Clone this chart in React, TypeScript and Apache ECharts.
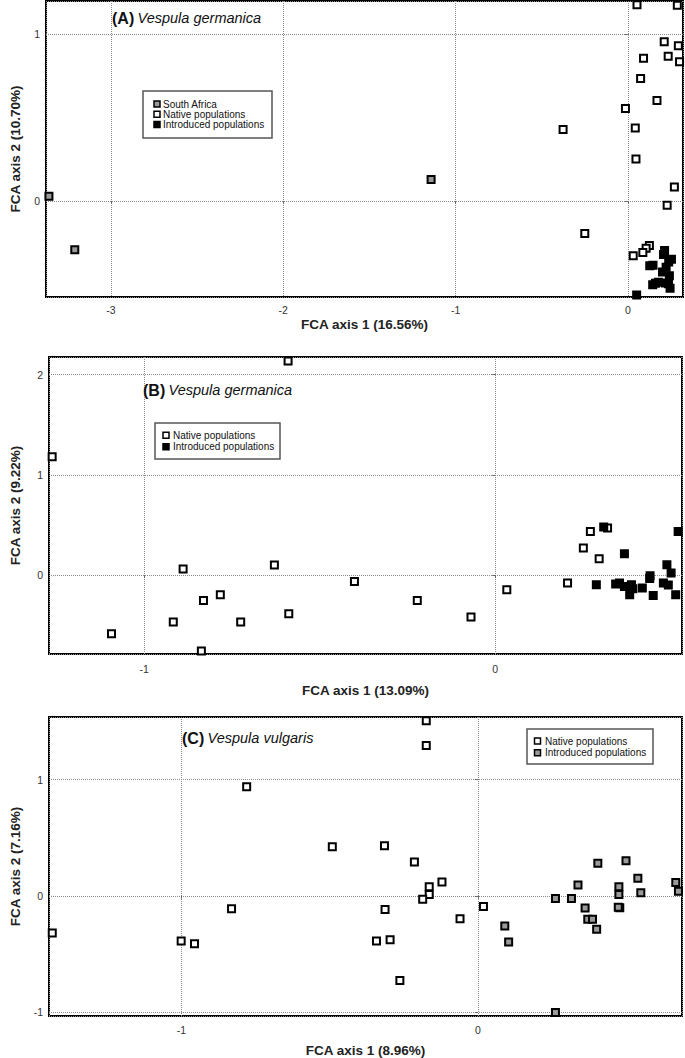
import React, { useEffect, useRef } from "react";
import * as echarts from "echarts";

// ---------- Panel A: Vespula germanica ----------
const southAfricaA: number[][] = [
  [-3.36, 0.028], [-3.21, -0.293], [-1.142, 0.129],
];
const nativeA: number[][] = [
  [0.053, 1.177], [0.287, 1.175], [0.211, 0.956], [0.293, 0.932], [0.091, 0.856],
  [0.234, 0.868], [0.3, 0.836], [0.074, 0.734], [0.169, 0.602], [-0.014, 0.555],
  [-0.376, 0.429], [0.043, 0.437], [0.047, 0.251], [0.27, 0.084], [0.228, -0.026],
  [-0.25, -0.196], [0.125, -0.268], [0.106, -0.284], [0.087, -0.31], [0.031, -0.329],
];
const introducedA: number[][] = [
  [0.213, -0.298], [0.207, -0.322], [0.253, -0.35], [0.237, -0.367], [0.146, -0.386],
  [0.127, -0.389], [0.222, -0.398], [0.201, -0.427], [0.241, -0.449], [0.177, -0.489],
  [0.144, -0.503], [0.218, -0.493], [0.236, -0.497], [0.245, -0.525], [0.051, -0.565],
  [0.16, -0.495],
];

// ---------- Panel B: Vespula germanica ----------
const nativeB: number[][] = [
  [-0.59, 2.136], [-1.262, 1.181], [-0.889, 0.06], [-0.629, 0.1], [-0.401, -0.063],
  [-0.831, -0.253], [-0.783, -0.196], [-0.917, -0.469], [-0.725, -0.469], [-0.588, -0.386],
  [-1.093, -0.585], [-0.837, -0.758], [-0.222, -0.253], [-0.069, -0.419], [0.033, -0.146],
  [0.206, -0.08], [0.251, 0.269], [0.271, 0.436], [0.296, 0.163], [0.32, 0.469],
];
const introducedB: number[][] = [
  [0.309, 0.479], [0.521, 0.435], [0.368, 0.213], [0.489, 0.103], [0.501, 0.02],
  [0.441, -0.007], [0.44, -0.034], [0.288, -0.097], [0.343, -0.09], [0.354, -0.08],
  [0.368, -0.114], [0.388, -0.097], [0.392, -0.137], [0.383, -0.197], [0.419, -0.13],
  [0.45, -0.204], [0.479, -0.08], [0.493, -0.1], [0.514, -0.197],
];

// ---------- Panel C: Vespula vulgaris ----------
const nativeC: number[][] = [
  [-0.174, 1.506], [-0.174, 1.294], [-0.78, 0.938], [-0.491, 0.422], [-0.315, 0.43],
  [-0.214, 0.29], [-0.121, 0.118], [-0.164, 0.077], [-0.164, 0.011], [-0.186, -0.029],
  [-0.831, -0.112], [-0.313, -0.118], [-0.06, -0.198], [0.019, -0.092], [-1.436, -0.321],
  [-1.001, -0.39], [-0.956, -0.413], [-0.342, -0.39], [-0.296, -0.379], [-0.263, -0.729],
];
const introducedC: number[][] = [
  [0.091, -0.261], [0.104, -0.398], [0.262, -0.023], [0.316, -0.023], [0.338, 0.092],
  [0.405, 0.279], [0.362, -0.106], [0.371, -0.203], [0.387, -0.203], [0.401, -0.289],
  [0.476, 0.078], [0.476, 0.012], [0.479, -0.103], [0.474, -0.098], [0.5, 0.301],
  [0.54, 0.15], [0.55, 0.026], [0.668, 0.115], [0.677, 0.04], [0.262, -1.004],
];

const axisNamesX = ["FCA axis 1 (16.56%)", "FCA axis 1 (13.09%)", "FCA axis 1 (8.96%)"];
const axisNamesY = ["FCA axis 2 (10.70%)", "FCA axis 2 (9.22%)", "FCA axis 2 (7.16%)"];
const panelTags = ["(A)", "(B)", "(C)"];
const species = ["Vespula germanica", "Vespula germanica", "Vespula vulgaris"];
const xRanges = [[-3.377, 0.32], [-1.271, 0.532], [-1.447, 0.689]];
const yRanges = [[-0.577, 1.2], [-0.788, 2.177], [-1.035, 1.539]];

const FONT = "'Liberation Sans', Arial, sans-serif";

const grids = [
  { left: 37, top: 1, width: 646, height: 296 },
  { left: 40, top: 357, width: 642, height: 297 },
  { left: 40, top: 717, width: 642, height: 299 },
];
const xNameGaps = [20, 29, 27];
const xLabelMargins = [7, 9, 8];
const yNameGaps = [24, 27, 27];

const intFormatter = (v: number) =>
  Math.abs(v - Math.round(v)) < 1e-6 ? String(Math.round(v)) : "";

function makeX(i: number) {
  return {
    type: "value",
    gridIndex: i,
    min: xRanges[i][0],
    max: xRanges[i][1],
    minInterval: 1,
    maxInterval: 1,
    splitNumber: 3,
    name: axisNamesX[i],
    nameLocation: "middle",
    nameGap: xNameGaps[i],
    nameTextStyle: { fontFamily: FONT, fontWeight: "bold", fontSize: 13.5, color: "#222" },
    axisLine: { show: false },
    axisTick: { show: true, length: 3, lineStyle: { color: "#666" } },
    axisLabel: {
      fontFamily: FONT, fontSize: 10.5, color: "#333", margin: xLabelMargins[i],
      formatter: intFormatter, showMinLabel: false, showMaxLabel: false,
    },
    splitLine: { show: true, lineStyle: { color: "#8a8a8a", type: [1, 1], width: 1 } },
  };
}
function makeY(i: number) {
  return {
    type: "value",
    gridIndex: i,
    min: yRanges[i][0],
    max: yRanges[i][1],
    minInterval: 1,
    maxInterval: 1,
    splitNumber: 3,
    name: axisNamesY[i],
    nameLocation: "middle",
    nameGap: yNameGaps[i],
    nameTextStyle: { fontFamily: FONT, fontWeight: "bold", fontSize: 13.5, color: "#222" },
    axisLine: { show: false },
    axisTick: { show: true, length: 3, lineStyle: { color: "#666" } },
    axisLabel: {
      fontFamily: FONT, fontSize: 10.5, color: "#333", margin: 6,
      formatter: intFormatter, showMinLabel: false, showMaxLabel: false,
    },
    splitLine: { show: true, lineStyle: { color: "#8a8a8a", type: [1, 1], width: 1 } },
  };
}

function scatter(name: string, data: number[][], i: number, fill: string) {
  return {
    type: "scatter",
    name,
    xAxisIndex: i,
    yAxisIndex: i,
    data,
    symbol: "rect",
    symbolSize: 7,
    itemStyle: { color: fill, borderColor: "#000", borderWidth: 2, opacity: 1 },
    z: 5,
  };
}

function legendBox(x: number, y: number, w: number, h: number, items: { label: string; fill: string }[], rowY0: number, rowStep: number, sqX: number, textX: number) {
  const children: any[] = [
    {
      type: "rect",
      shape: { x, y, width: w, height: h },
      style: { fill: "#fff", stroke: "#555", lineWidth: 1.5 },
    },
  ];
  items.forEach((it, k) => {
    const cy = rowY0 + k * rowStep;
    children.push({
      type: "rect",
      shape: { x: sqX - 3, y: cy - 3, width: 6, height: 6 },
      style: { fill: it.fill, stroke: "#000", lineWidth: 1.5 },
    });
    children.push({
      type: "text",
      x: textX,
      y: cy,
      style: {
        text: it.label,
        fontFamily: FONT,
        fontSize: 10,
        lineHeight: 10,
        fill: "#111",
        verticalAlign: "middle",
        align: "left",
      },
    });
  });
  return { type: "group", children, z: 10 };
}

function title(i: number, x: number, y: number) {
  return {
    type: "text",
    x,
    y,
    z: 10,
    style: {
      text: `{b|${panelTags[i]}} {i|${species[i]}}`,
      verticalAlign: "middle",
      rich: {
        b: { fontFamily: FONT, fontWeight: "bold", fontSize: 16, fill: "#111" },
        i: { fontFamily: FONT, fontStyle: "italic", fontSize: 14.5, fill: "#111" },
      },
    },
  };
}

export default function App() {
  const ref = useRef<HTMLDivElement>(null);
  useEffect(() => {
    document.body.style.margin = "0";
    const chart = echarts.init(ref.current!, null, { renderer: "svg" });
    const option: any = {
      animation: false,
      backgroundColor: "#fff",
      grid: grids.map((g) => ({
        ...g,
        show: true,
        borderColor: "#000",
        borderWidth: 2,
        backgroundColor: "transparent",
        containLabel: false,
      })),
      xAxis: [0, 1, 2].map(makeX),
      yAxis: [0, 1, 2].map(makeY),
      series: [
        scatter("South Africa", southAfricaA, 0, "#9a9a9a"),
        scatter("Native populations", nativeA, 0, "#fff"),
        scatter("Introduced populations", introducedA, 0, "#000"),
        scatter("Native populations", nativeB, 1, "#fff"),
        scatter("Introduced populations", introducedB, 1, "#000"),
        scatter("Native populations", nativeC, 2, "#fff"),
        scatter("Introduced populations", introducedC, 2, "#9a9a9a"),
      ],
      graphic: [
        title(0, 112, 18),
        title(1, 143, 390),
        title(2, 182, 738),
        legendBox(143, 91, 129, 47, [
          { label: "South Africa", fill: "#9a9a9a" },
          { label: "Native populations", fill: "#fff" },
          { label: "Introduced populations", fill: "#000" },
        ], 104, 10.2, 157, 163),
        legendBox(155, 423, 125, 36, [
          { label: "Native populations", fill: "#fff" },
          { label: "Introduced populations", fill: "#000" },
        ], 435.3, 11.4, 166, 173),
        legendBox(527, 729, 126, 35, [
          { label: "Native populations", fill: "#fff" },
          { label: "Introduced populations", fill: "#9a9a9a" },
        ], 741, 11.7, 537.5, 545),
      ],
    };
    chart.setOption(option);
    return () => chart.dispose();
  }, []);
  return <div ref={ref} style={{ width: 685, height: 1058 }} />;
}
